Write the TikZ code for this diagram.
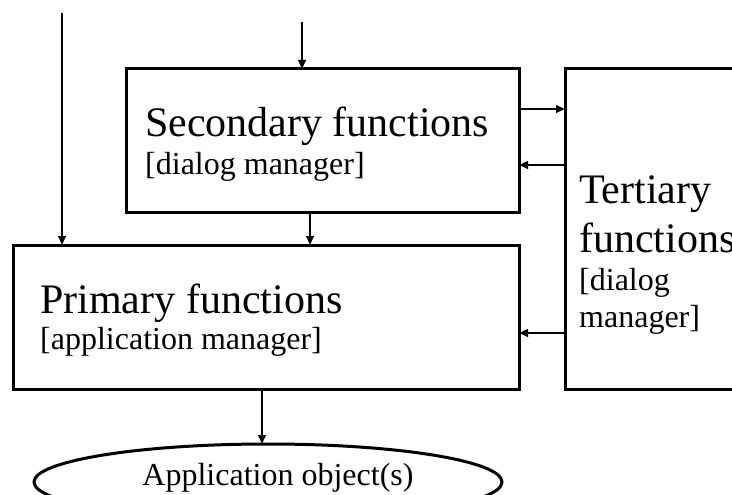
\documentclass[tikz,border=0pt]{standalone}
\usepackage{fontspec}
\setmainfont{Liberation Serif}
\usetikzlibrary{positioning}
\usetikzlibrary{shapes.geometric}
\usetikzlibrary{arrows.meta}

\begin{document}
\begin{tikzpicture}[
                          x=1pt, y=-1pt,
                          >={Triangle[length=9pt,width=7.5pt]},
                          funcbox/.style={rectangle, draw, line width=3pt, outer sep=0pt, inner sep=0pt, anchor=north west},
                          objnode/.style={ellipse, draw, line width=3pt, outer sep=0pt, inner sep=0pt, minimum width=468pt, minimum height=76pt},
                          bigtext/.style={anchor=base west, inner sep=0pt, font=\fontsize{42}{49}\selectfont},
                          smalltext/.style={anchor=base west, inner sep=0pt, font=\fontsize{32}{38}\selectfont},
                          flow/.style={->, line width=2.2pt},
                      ]
                      \useasboundingbox (0,0) rectangle (732,495);
                      \clip (0,0) rectangle (732,495);

                      % Nodes
                      \node[funcbox, minimum width=393pt, minimum height=143pt] (secondary) at (126,69) {};
                      \node[funcbox, minimum width=506pt, minimum height=144pt] (primary) at (13,245) {};
                      \node[funcbox, minimum width=200pt, minimum height=320pt] (tertiary) at (565,69) {};
                      \node[objnode] (appobj) at (268,482) {};

                      \node[bigtext]   (secondary_title) at (145,137) {Secondary functions};
                      \node[smalltext] (secondary_sub)   at (145,175) {[dialog manager]};
                      \node[bigtext]   (primary_title)   at (40,313)  {Primary functions};
                      \node[smalltext] (primary_sub)     at (40,349)  {[application manager]};
                      \node[bigtext]   (tertiary_title_1) at (579,203) {Tertiary};
                      \node[bigtext]   (tertiary_title_2) at (579,252) {functions};
                      \node[smalltext] (tertiary_sub_1)   at (579,290) {[dialog};
                      \node[smalltext] (tertiary_sub_2)   at (579,327) {manager]};
                      \node[smalltext, anchor=base] (appobj_text) at (278,485) {Application object(s)};

                      \coordinate (primary_in)   at (62,13);
                      \coordinate (secondary_in) at (302,22);

                      %Lines
                      \draw[flow] (primary_in) -- (primary_in |- primary.north);
                      \draw[flow] (secondary_in) -- (secondary_in |- secondary.north);
                      \draw[flow] ([xshift=-12.5pt]secondary.south) -- ([xshift=-12.5pt]secondary.south |- primary.north);
                      \draw[flow] ([xshift=-4pt]primary.south) -- ([xshift=-4pt]primary.south |- appobj.north);
                      \draw[flow] ([yshift=31.5pt]secondary.east) -- ([yshift=31.5pt]secondary.east -| tertiary.west);
                      \draw[flow] ([yshift=-24.5pt]secondary.east -| tertiary.west) -- ([yshift=-24.5pt]secondary.east);
                      \draw[flow] ([yshift=-16pt]primary.east -| tertiary.west) -- ([yshift=-16pt]primary.east);
                  \end{tikzpicture}
\end{document}
